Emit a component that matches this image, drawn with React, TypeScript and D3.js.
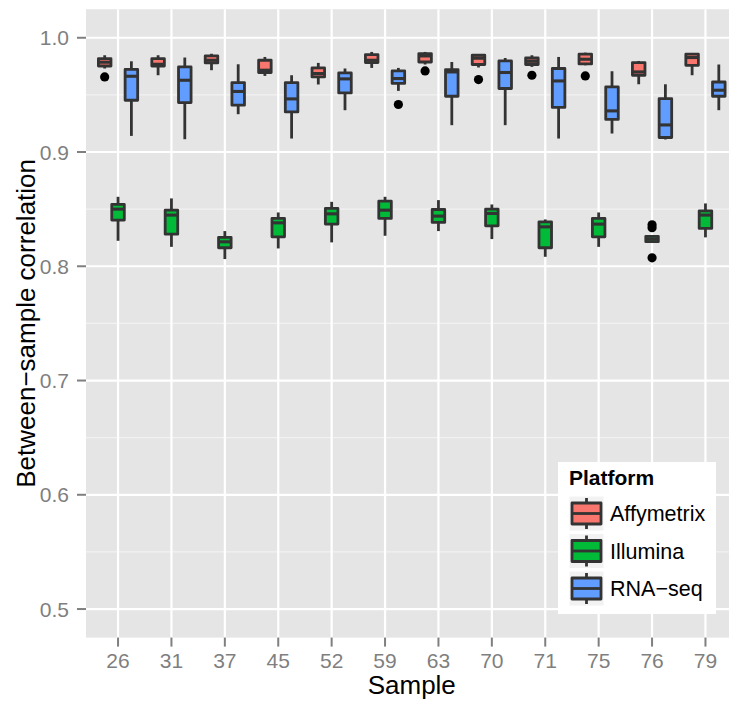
import React from "react";
import * as d3 from "d3";

const samples = ["26", "31", "37", "45", "52", "59", "63", "70", "71", "75", "76", "79"];
const platforms = ["Affymetrix", "Illumina", "RNA−seq"];
const platformColors = ["#F8766D", "#00BA38", "#619CFF"];
const yTicks = [0.5, 0.6, 0.7, 0.8, 0.9, 1.0];
const yMinor = [0.55, 0.65, 0.75, 0.85, 0.95];

// [lower whisker, Q1, median, Q3, upper whisker]
const affyStats = [
  [0.9731, 0.9753, 0.9786, 0.9818, 0.9847],
  [0.9672, 0.9753, 0.9768, 0.9818, 0.9847],
  [0.9716, 0.978, 0.9803, 0.9841, 0.986],
  [0.9666, 0.9696, 0.9716, 0.9803, 0.9832],
  [0.9591, 0.9657, 0.9687, 0.9736, 0.978],
  [0.9736, 0.9783, 0.9803, 0.9853, 0.9876],
  [0.9766, 0.9788, 0.9841, 0.9862, 0.9876],
  [0.974, 0.9766, 0.9821, 0.9847, 0.9856],
  [0.9745, 0.9766, 0.9794, 0.9823, 0.9847],
  [0.9759, 0.9771, 0.9812, 0.9856, 0.987],
  [0.9593, 0.9672, 0.9701, 0.9783, 0.9797],
  [0.9672, 0.9759, 0.9827, 0.9856, 0.9867],
];
const illuminaStats = [
  [0.8223, 0.8404, 0.85, 0.8541, 0.8608],
  [0.817, 0.8281, 0.8448, 0.8491, 0.8594],
  [0.8063, 0.8162, 0.8214, 0.8253, 0.8308],
  [0.8156, 0.8258, 0.838, 0.8419, 0.8471],
  [0.8209, 0.8369, 0.8459, 0.8506, 0.8564],
  [0.8267, 0.8419, 0.8491, 0.857, 0.8608],
  [0.8308, 0.8384, 0.8439, 0.8497, 0.8579],
  [0.8238, 0.8354, 0.8462, 0.85, 0.8541],
  [0.8083, 0.8162, 0.8345, 0.8389, 0.841],
  [0.817, 0.8258, 0.8369, 0.8419, 0.8471],
  [0.8209, 0.8215, 0.8238, 0.8262, 0.8267],
  [0.8253, 0.8331, 0.8448, 0.8485, 0.855],
];
const rnaseqStats = [
  [0.9141, 0.9453, 0.9663, 0.9724, 0.9794],
  [0.9112, 0.9433, 0.9628, 0.9745, 0.9827],
  [0.9331, 0.941, 0.953, 0.9608, 0.9768],
  [0.9118, 0.9351, 0.9465, 0.9608, 0.9672],
  [0.9366, 0.9517, 0.964, 0.9692, 0.9731],
  [0.9535, 0.96, 0.9643, 0.971, 0.9736],
  [0.9235, 0.9488, 0.9701, 0.9722, 0.9788],
  [0.9235, 0.9556, 0.9696, 0.9797, 0.9823],
  [0.9118, 0.939, 0.9622, 0.9731, 0.9832],
  [0.9162, 0.9285, 0.936, 0.957, 0.9707],
  [0.911, 0.9127, 0.9237, 0.9468, 0.9593],
  [0.9366, 0.9488, 0.9541, 0.9613, 0.9766],
];
// outliers: [sample, value]
const affyOutliers: [string, number][] = [
  ["26", 0.9657], ["63", 0.971], ["70", 0.9634], ["71", 0.9672], ["75", 0.9666],
];
const illuminaOutliers: [string, number][] = [
  ["76", 0.8363], ["76", 0.8337], ["76", 0.8074],
];
const rnaseqOutliers: [string, number][] = [["59", 0.9416]];

const W = 729;
const H = 701;
const panel = { left: 86, right: 737.5, top: 9.2, bottom: 637.6 };

export default function App() {
  const n = samples.length;
  const step = (panel.right - panel.left) / (n - 1 + 1.2);
  const x = d3
    .scalePoint()
    .domain(samples)
    .range([panel.left + 0.6 * step, panel.right - 0.6 * step]);
  const xc = (s: string) => x(s) as number;
  const y = d3.scaleLinear().domain([0.475, 1.025]).range([panel.bottom, panel.top]);
  const dodge = d3.scaleBand().domain(platforms).range([-0.375 * step, 0.375 * step]);
  const bw = dodge.bandwidth();
  const boxW = bw - 0.8;

  const allStats = [affyStats, illuminaStats, rnaseqStats];
  const allOutliers = [affyOutliers, illuminaOutliers, rnaseqOutliers];
  const stroke = "#333333";
  const lw = 2.8;
  const font = "'Liberation Sans', Arial, Helvetica, sans-serif";

  return (
    <svg
      width={W}
      height={H}
      style={{ position: "absolute", left: 0, top: 0, background: "#fff" }}
      fontFamily={font}
    >
      <rect x={panel.left} y={panel.top} width={panel.right - panel.left} height={panel.bottom - panel.top} fill="#E5E5E5" />
      {yMinor.map((t) => (
        <line key={"mn" + t} x1={panel.left} x2={panel.right} y1={y(t)} y2={y(t)} stroke="#F2F2F2" strokeWidth={1.1} />
      ))}
      {yTicks.map((t) => (
        <line key={"mj" + t} x1={panel.left} x2={panel.right} y1={y(t)} y2={y(t)} stroke="#FFFFFF" strokeWidth={2.2} />
      ))}
      {samples.map((s) => (
        <line key={"vx" + s} x1={xc(s)} x2={xc(s)} y1={panel.top} y2={panel.bottom} stroke="#FFFFFF" strokeWidth={2.2} />
      ))}
      {allStats.map((stats, pi) =>
        stats.map((st, si) => {
          const cx = xc(samples[si]) + (dodge(platforms[pi]) as number) + bw / 2;
          const [lo, q1, med, q3, hi] = st;
          return (
            <g key={"b" + pi + "-" + si}>
              <line x1={cx} x2={cx} y1={y(hi)} y2={y(q3)} stroke={stroke} strokeWidth={lw} />
              <line x1={cx} x2={cx} y1={y(q1)} y2={y(lo)} stroke={stroke} strokeWidth={lw} />
              <rect
                x={cx - boxW / 2}
                y={y(q3)}
                width={boxW}
                height={y(q1) - y(q3)}
                fill={platformColors[pi]}
                stroke={stroke}
                strokeWidth={lw}
                strokeLinejoin="round"
              />
              <line x1={cx - boxW / 2} x2={cx + boxW / 2} y1={y(med)} y2={y(med)} stroke={stroke} strokeWidth={lw * 1.1} />
            </g>
          );
        })
      )}
      {allOutliers.map((outs, pi) =>
        outs.map(([s, v], i) => (
          <circle
            key={"o" + pi + "-" + i}
            cx={xc(s) + (dodge(platforms[pi]) as number) + bw / 2}
            cy={y(v)}
            r={4.6}
            fill="#000"
          />
        ))
      )}
      {/* y axis */}
      {yTicks.map((t) => (
        <g key={"yt" + t}>
          <line x1={panel.left - 9} x2={panel.left} y1={y(t)} y2={y(t)} stroke="#7F7F7F" strokeWidth={2} />
          <text x={panel.left - 17} y={y(t)} dy="0.36em" textAnchor="end" fontSize={21} fill="#7F7F7F">
            {t.toFixed(1)}
          </text>
        </g>
      ))}
      {/* x axis */}
      {samples.map((s) => (
        <g key={"xt" + s}>
          <line x1={xc(s)} x2={xc(s)} y1={panel.bottom} y2={panel.bottom + 9} stroke="#7F7F7F" strokeWidth={2} />
          <text x={xc(s)} y={668} textAnchor="middle" fontSize={21} fill="#7F7F7F">
            {s}
          </text>
        </g>
      ))}
      <text x={(panel.left + panel.right) / 2} y={694} textAnchor="middle" fontSize={26} fill="#000">
        Sample
      </text>
      <text
        transform={`translate(35,${(panel.top + panel.bottom) / 2}) rotate(-90)`}
        textAnchor="middle"
        fontSize={26}
        fill="#000"
      >
        Between−sample correlation
      </text>
      {/* legend */}
      <g>
        <rect x={558} y={462} width={158} height={152} fill="#FFFFFF" />
        <text x={569} y={485} fontSize={21} fontWeight="bold" fill="#000">
          Platform
        </text>
        {platforms.map((p, i) => {
          const ky = 496 + i * 37.5;
          const kx = 569;
          const ks = 35;
          const cx = kx + ks / 2;
          return (
            <g key={"lg" + p}>
              <rect x={kx} y={ky} width={ks} height={ks} fill="#F2F2F2" stroke="#FFFFFF" strokeWidth={1} />
              <line x1={cx} x2={cx} y1={ky + 2} y2={ky + ks - 2} stroke={stroke} strokeWidth={lw} />
              <rect x={kx + 3} y={ky + 7} width={ks - 6} height={ks - 14} fill={platformColors[i]} stroke={stroke} strokeWidth={lw} strokeLinejoin="round" />
              <line x1={kx + 3} x2={kx + ks - 3} y1={ky + ks / 2} y2={ky + ks / 2} stroke={stroke} strokeWidth={lw} />
              <text x={610} y={ky + ks / 2} dy="0.36em" fontSize={21.5} fill="#000">
                {p}
              </text>
            </g>
          );
        })}
      </g>
    </svg>
  );
}
